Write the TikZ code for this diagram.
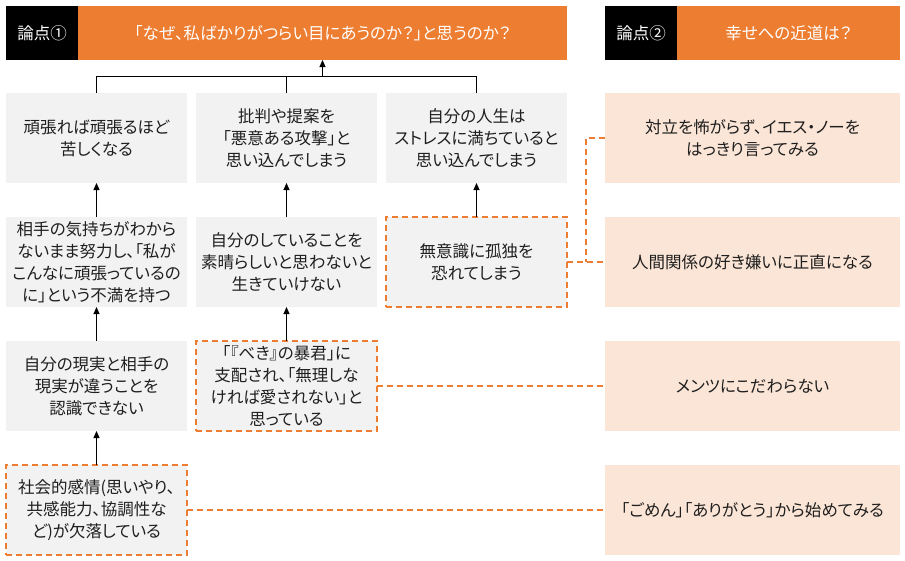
\documentclass[tikz,border=0pt]{standalone}
\usepackage{fontspec}
\setmainfont{Noto Sans CJK JP}[RawFeature=+palt]
\usepackage{xcolor}
\usepackage{tikz}
\usetikzlibrary{positioning,arrows.meta}

\definecolor{accent}{HTML}{ED7D31}
\definecolor{tipfill}{HTML}{FBE5D6}
\definecolor{boxgray}{HTML}{F2F2F2}
\definecolor{ink}{HTML}{1F1F1F}
\newcommand\jpfont{\fontsize{16.5}{22}\selectfont}

\begin{document}
\begin{tikzpicture}[
  x=1pt, y=-1pt,
  every node/.style={
    align=center,
    inner sep=0pt,
    outer sep=0pt,
    text=ink,
    font=\jpfont
  },
  causebox/.style={fill=boxgray, minimum width=181pt, minimum height=90pt},
  rootbox/.style={causebox, draw=accent, line width=1.6pt, dash pattern=on 6pt off 4pt},
  tipbox/.style={fill=tipfill, minimum width=295pt, minimum height=90pt},
  labelbox/.style={fill=black, text=white, minimum width=72pt, minimum height=54pt},
  titlebox/.style={fill=accent, text=white, minimum height=54pt},
  link/.style={draw=accent, line width=1.6pt, dash pattern=on 6pt off 4pt},
  >={Triangle[length=7pt,width=6pt]}
]

\useasboundingbox (0,0) rectangle (905,560);

\node (issueA) [labelbox, anchor=north west] at (6,6) {論点①};

\node (whyq) [titlebox, minimum width=489pt, right=0pt of issueA]
{「なぜ、私ばかりがつらい目にあうのか？」と思うのか？};

\node (issueB) [labelbox, right=38pt of whyq] {論点②};

\node (pathq) [titlebox, minimum width=223pt, right=0pt of issueB]
{幸せへの近道は？};

\node (suffer) [causebox, anchor=north west] at (6,93)
{頑張れば頑張るほど\\苦しくなる};

\node (attack) [causebox, right=9pt of suffer]
{批判や提案を\\「悪意ある攻撃」と\\思い込んでしまう};

\node (stress) [causebox, right=9pt of attack]
{自分の人生は\\ストレスに満ちていると\\思い込んでしまう};

\node (discontent) [causebox, below=34pt of suffer]
{相手の気持ちがわから\\ないまま努力し、「私が\\こんなに頑張っているの\\に」という不満を持つ};

\node (praise) [causebox, below=34pt of attack]
{自分のしていることを\\素晴らしいと思わないと\\生きていけない};

\node (lonely) [rootbox, below=34pt of stress]
{無意識に孤独を\\恐れてしまう};

\node (reality) [causebox, below=34pt of discontent]
{自分の現実と相手の\\現実が違うことを\\認識できない};

\node (tyrant) [rootbox, below=34pt of praise]
{「『べき』の暴君」に\\支配され、「無理しな\\ければ愛されない」と\\思っている};

\node (empathy) [rootbox, below=34pt of reality]
{社会的感情(思いやり、\\共感能力、協調性な\\ど)が欠落している};

\node (sayno) [tipbox, anchor=north west] at (605,93)
{対立を怖がらず、イエス・ノーを\\はっきり言ってみる};

\node (honest) [tipbox, below=34pt of sayno]
{人間関係の好き嫌いに正直になる};

\node (face) [tipbox, below=34pt of honest]
{メンツにこだわらない};

\node (sorry) [tipbox, below=34pt of face]
{「ごめん」「ありがとう」から始めてみる};

\coordinate [below=16.5pt of whyq] (join);
\coordinate [left=19pt of sayno.west] (bend);

\draw[line width=0.9pt] (suffer) |- (join);
\draw[line width=0.9pt] (attack) |- (join);
\draw[line width=0.9pt] (stress) |- (join);
\draw[->, line width=0.9pt] (join) -- (whyq);

\draw[->, line width=0.9pt] (discontent) -- (suffer);
\draw[->, line width=0.9pt] (reality) -- (discontent);
\draw[->, line width=0.9pt] (empathy) -- (reality);
\draw[->, line width=0.9pt] (praise) -- (attack);
\draw[->, line width=0.9pt] (tyrant) -- (praise);
\draw[->, line width=0.9pt] (lonely) -- (stress);

\draw[link] (lonely) -- (honest);
\draw[link] (sayno) -| (bend |- honest.west);
\draw[link] (tyrant) -- (face);
\draw[link] (empathy) -- (sorry);

\end{tikzpicture}
\end{document}
